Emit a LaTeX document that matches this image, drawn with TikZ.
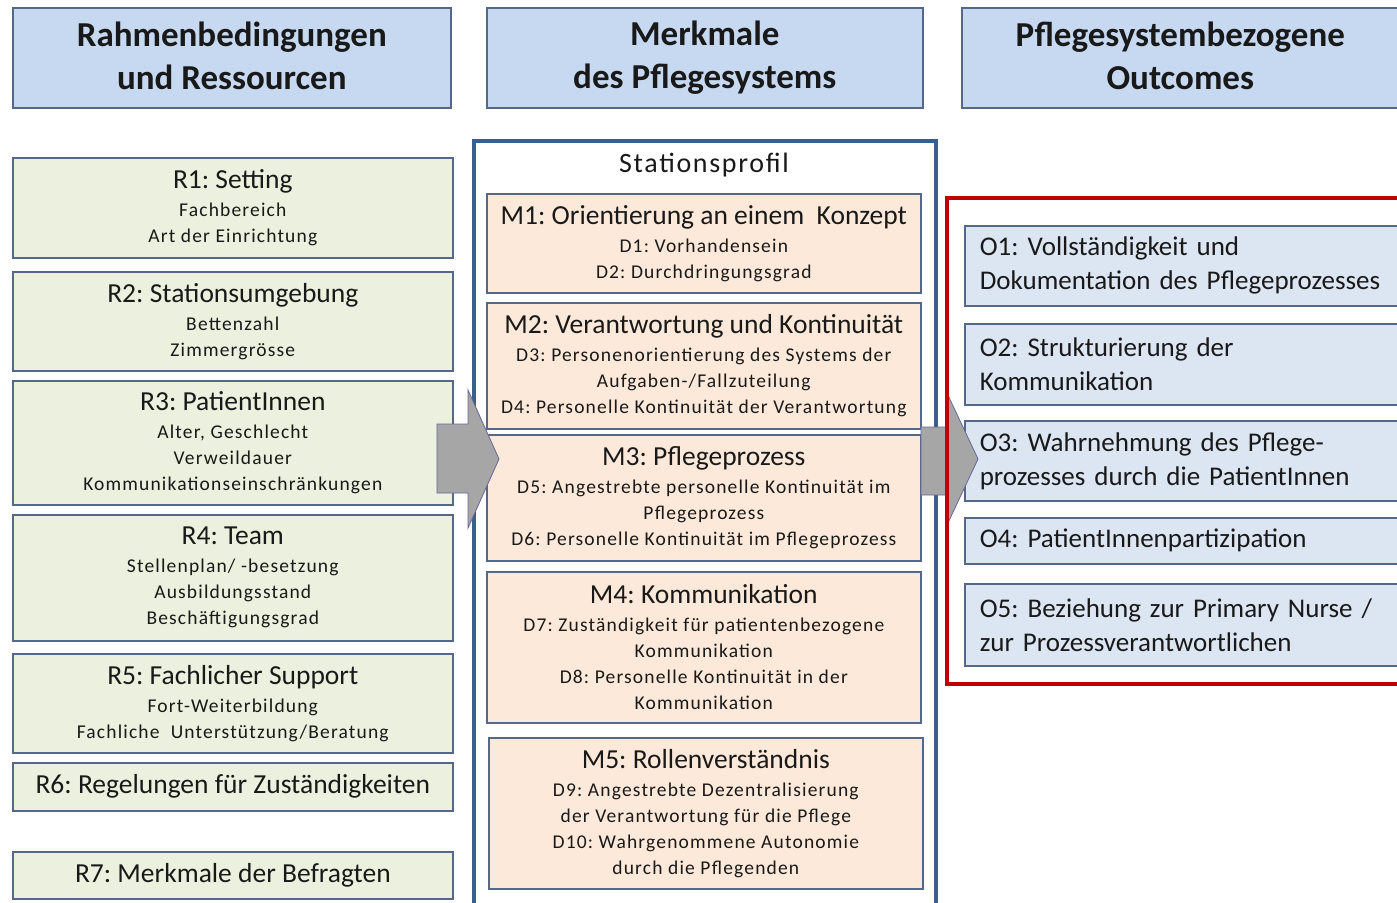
\documentclass[tikz,border=0pt]{standalone}
\usepackage{fontspec}
\setmainfont{Carlito}
\newfontfamily\spacedfont[LetterSpace=6]{Carlito}
\usetikzlibrary{positioning}
\frenchspacing

\definecolor{edgecol}{HTML}{56688A}
\definecolor{headfill}{HTML}{C6D9F1}
\definecolor{rfill}{HTML}{EBF1DE}
\definecolor{mfill}{HTML}{FDE9D9}
\definecolor{ofill}{HTML}{DCE6F2}
\definecolor{framecol}{HTML}{3A5F8E}
\definecolor{outred}{HTML}{C00000}
\definecolor{arrowgray}{HTML}{A6A6A6}

\newcommand\boxtitle{\normalfont\fontsize{27.5}{29}\selectfont}
\newcommand\boxsub{\spacedfont\fontsize{19.5}{26}\selectfont}

\begin{document}
\begin{tikzpicture}[
    x=1pt, y=-1pt,
    every node/.style={text=black!90, anchor=north west, inner sep=0pt},
    head/.style={draw=edgecol, fill=headfill, line width=1.6pt, align=center,
        minimum height=100pt, font=\fontsize{35}{43}\selectfont\bfseries},
    rbox/.style={draw=edgecol, fill=rfill, line width=1.6pt, align=center, minimum width=440pt, font=\boxsub},
    mbox/.style={draw=edgecol, fill=mfill, line width=1.6pt, align=center, minimum width=434pt, font=\boxsub},
    obox/.style={draw=edgecol, fill=ofill, line width=1.6pt, align=left, inner xsep=15pt,
        text width=420pt, font=\fontsize{27}{34}\selectfont},
    blockarrow/.style={fill=arrowgray, draw=gray!80!blue, line width=0.8pt},
    ]
    \useasboundingbox (0,0) rectangle (1397,902);
    \fill[white] (0,0) rectangle (1397,902);

    % headers
    \node[head, minimum width=438pt, text depth=4pt] (h1) at (12,7) {Rahmenbedingungen\\und Ressourcen};
    \node[head, minimum width=436pt] (h2) at (486,7) {Merkmale\\des Pflegesystems};
    \node[head, minimum width=437pt, text depth=4pt] (h3) at (961,7) {Pflegesystembezogene\\Outcomes};

    % Rahmenbedingungen
    \node[rbox, minimum height=100pt] (r1) at (12,157) {{\boxtitle R1: Setting}\\[2pt]Fachbereich\\Art der Einrichtung};
    \node[rbox, minimum height=99pt] (r2) at (12,271) {{\boxtitle R2: Stationsumgebung}\\[2pt]Bettenzahl\\Zimmergrösse};
    \node[rbox, minimum height=124pt] (r3) at (12,380) {{\boxtitle R3: PatientInnen}\\[2pt]Alter, Geschlecht\\Verweildauer\\Kommunikationseinschränkungen};
    \node[rbox, minimum height=126pt] (r4) at (12,514) {{\boxtitle R4: Team}\\[2pt]Stellenplan/ -besetzung\\Ausbildungsstand\\Beschäftigungsgrad};
    \node[rbox, minimum height=99pt] (r5) at (12,653) {{\boxtitle R5: Fachlicher Support}\\[2pt]Fort-Weiterbildung\\Fachliche\ \ Unterstützung/Beratung};
    \node[rbox, minimum height=48pt] (r6) at (12,762) {\boxtitle R6: Regelungen für Zuständigkeiten};
    \node[rbox, minimum height=47pt] (r7) at (12,851) {\boxtitle R7: Merkmale der Befragten};

    % Stationsprofil
    \draw[framecol, line width=4pt] (474,912) -- (474,141) -- (936,141) -- (936,912);
    \node[anchor=north] (sp) at (704,153) {\spacedfont\fontsize{28}{30}\selectfont Stationsprofil};
    \node[mbox, minimum height=99pt] (m1) at (486,193) {{\boxtitle M1: Orientierung an einem\ \ Konzept}\\[2pt]D1: Vorhandensein\\D2: Durchdringungsgrad};
    \node[mbox, minimum height=126pt] (m2) at (486,302) {{\boxtitle M2: Verantwortung und Kontinuität}\\[2pt]D3: Personenorientierung des Systems der\\Aufgaben-/Fallzuteilung\\D4: Personelle Kontinuität der Verantwortung};
    \node[mbox, minimum height=126pt] (m3) at (486,434) {{\boxtitle M3: Pflegeprozess}\\[2pt]D5: Angestrebte personelle Kontinuität im\\Pflegeprozess\\D6: Personelle Kontinuität im Pflegeprozess};
    \node[mbox, minimum height=151pt] (m4) at (486,571) {{\boxtitle M4: Kommunikation}\\[2pt]D7: Zuständigkeit für patientenbezogene\\Kommunikation\\D8: Personelle Kontinuität in der\\Kommunikation};
    \node[mbox, minimum height=151pt] (m5) at (488,737) {{\boxtitle M5: Rollenverständnis}\\[2pt]D9: Angestrebte Dezentralisierung\\der Verantwortung für die Pflege\\D10: Wahrgenommene Autonomie\\durch die Pflegenden};

    % Outcomes
    \node[obox, minimum height=80pt] (o1) at (964,225) {O1: Vollständigkeit und\\Dokumentation des Pflegeprozesses};
    \node[obox, minimum height=81pt] (o2) at (964,323) {O2: Strukturierung der\\Kommunikation};
    \node[obox, minimum height=80pt] (o3) at (964,420) {O3: Wahrnehmung des Pflege-\\prozesses durch die PatientInnen};
    \node[obox, minimum height=46pt] (o4) at (964,517) {O4: PatientInnenpartizipation};
    \node[obox, minimum height=82pt] (o5) at (964,583) {O5: Beziehung zur Primary Nurse /\\zur Prozessverantwortlichen};

    % block arrows
    \draw[blockarrow] (437,424) -- (468,424) -- (468,390) -- (499,459) -- (468,528) -- (468,493) -- (437,493) -- cycle;
    \draw[blockarrow] (921,427) -- (946,427) -- (946,391) -- (978,459) -- (946,527) -- (946,495) -- (921,495) -- cycle;

    \draw[outred, line width=4pt] (1410,198) -- (947,198) -- (947,684) -- (1410,684);
\end{tikzpicture}
\end{document}
